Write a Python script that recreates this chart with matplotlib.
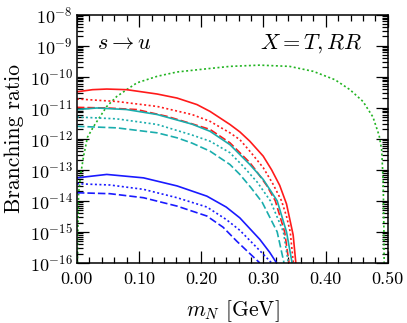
import numpy as np
import matplotlib
matplotlib.use("Agg")
import matplotlib.pyplot as plt
from matplotlib.ticker import LogLocator, MultipleLocator, FormatStrFormatter

plt.rcParams['font.family'] = 'serif'
plt.rcParams['font.serif'] = ['cmr10']
plt.rcParams['mathtext.fontset'] = 'cm'
plt.rcParams['axes.formatter.use_mathtext'] = True

# curves: m_N [GeV] and log10(branching ratio)
m_red_solid = [0, 0.025, 0.048, 0.08, 0.129, 0.161, 0.193, 0.214, 0.246, 0.262, 0.278, 0.2995, 0.313, 0.326, 0.337, 0.3477, 0.352]
lg_red_solid = [-10.49, -10.42, -10.40, -10.42, -10.56, -10.69, -10.9, -11.12, -11.54, -11.78, -12.08, -12.56, -13.0, -13.5, -14.1, -15.1, -16.0]

m_red_dot = [0, 0.064, 0.129, 0.185, 0.214, 0.246, 0.262, 0.278, 0.2995, 0.315, 0.329, 0.337, 0.343, 0.348]
lg_red_dot = [-10.72, -10.8, -10.96, -11.22, -11.44, -11.81, -12.03, -12.4, -12.93, -13.45, -14.0, -14.5, -15.0, -16.0]

m_red_dash = [0, 0.048, 0.096, 0.145, 0.185, 0.214, 0.246, 0.278, 0.287, 0.305, 0.319, 0.334, 0.341]
lg_red_dash = [-10.99, -11.01, -11.06, -11.28, -11.52, -11.7, -12.13, -12.77, -13.0, -13.5, -14.0, -15.0, -16.0]

m_cyan_solid = [0, 0.032, 0.08, 0.129, 0.185, 0.214, 0.246, 0.278, 0.2995, 0.322, 0.337, 0.346]
lg_cyan_solid = [-11.06, -11.01, -11.06, -11.22, -11.53, -11.76, -12.19, -12.83, -13.31, -14.0, -15.0, -16.0]

m_cyan_dot = [0, 0.064, 0.129, 0.185, 0.214, 0.246, 0.267, 0.29, 0.311, 0.332, 0.340]
lg_cyan_dot = [-11.3, -11.36, -11.54, -11.88, -12.08, -12.45, -12.88, -13.4, -14.0, -15.0, -16.0]

m_cyan_dash = [0, 0.064, 0.129, 0.161, 0.185, 0.214, 0.246, 0.262, 0.28, 0.298, 0.322, 0.333]
lg_cyan_dash = [-11.6, -11.65, -11.81, -11.97, -12.14, -12.4, -12.83, -13.15, -13.58, -14.05, -15.0, -16.0]

m_blue_solid = [0, 0.048, 0.107, 0.161, 0.209, 0.24, 0.262, 0.294, 0.31, 0.321]
lg_blue_solid = [-13.26, -13.15, -13.26, -13.52, -13.85, -14.2, -14.55, -15.24, -15.66, -16.0]

m_blue_dot = [0, 0.053, 0.107, 0.161, 0.209, 0.24, 0.262, 0.289, 0.313]
lg_blue_dot = [-13.45, -13.49, -13.63, -13.9, -14.2, -14.6, -14.95, -15.5, -16.0]

m_blue_dash = [0, 0.053, 0.107, 0.161, 0.209, 0.235, 0.257, 0.277, 0.294]
lg_blue_dash = [-13.74, -13.77, -13.9, -14.17, -14.49, -14.85, -15.3, -15.68, -16.0]

m_green = [0.0008, 0.0015, 0.0027, 0.0064, 0.0107, 0.017, 0.027, 0.0375, 0.048, 0.064, 0.08, 0.0965, 0.129, 0.161, 0.198,
           0.246, 0.294, 0.342, 0.38, 0.415, 0.439, 0.46, 0.476, 0.486, 0.49, 0.4925, 0.4936, 0.494]
lg_green = [-16, -15, -13.74, -13.1, -12.56, -11.95, -11.6, -11.28, -10.96, -10.64, -10.42, -10.2, -9.99, -9.85, -9.77,
            -9.67, -9.63, -9.67, -9.83, -10.1, -10.42, -10.8, -11.3, -11.9, -12.35, -13.4, -14.9, -16]

xticks = [0.0, 0.1, 0.2, 0.3, 0.4, 0.5]

red = '#ff1a1a'
cyan = '#1aadad'
blue = '#1a1aff'
green = '#22b422'
dot = (0, (1.2, 1.5))
dash = (0, (4.5, 1.8))

fig = plt.figure(figsize=(4.07, 3.23), dpi=100)
ax = fig.add_axes([0.189, 0.186, 0.764, 0.769])

curves = [
    (m_green, lg_green, green, dot),
    (m_red_solid, lg_red_solid, red, '-'),
    (m_red_dot, lg_red_dot, red, dot),
    (m_red_dash, lg_red_dash, red, dash),
    (m_cyan_solid, lg_cyan_solid, cyan, '-'),
    (m_cyan_dot, lg_cyan_dot, cyan, dot),
    (m_cyan_dash, lg_cyan_dash, cyan, dash),
    (m_blue_solid, lg_blue_solid, blue, '-'),
    (m_blue_dot, lg_blue_dot, blue, dot),
    (m_blue_dash, lg_blue_dash, blue, dash),
]
for m, lg, c, ls in curves:
    ax.plot(m, 10.0 ** np.array(lg), color=c, linestyle=ls, lw=1.2)

ax.set_yscale('log')
ax.set_xlim(0, 0.5)
ax.set_ylim(1e-16, 1e-8)
ax.set_xticks(xticks)
ax.xaxis.set_major_formatter(FormatStrFormatter('%.2f'))
ax.xaxis.set_minor_locator(MultipleLocator(0.02))
ax.yaxis.set_major_locator(LogLocator(base=10, numticks=20))
ax.yaxis.set_minor_locator(LogLocator(base=10, subs=np.arange(2, 10), numticks=20))
ax.tick_params(which='both', direction='in', top=True, right=True, labelsize=13, width=0.9)
ax.tick_params(which='major', length=8.5)
ax.tick_params(which='minor', length=4.3)
ax.tick_params(axis='x', which='major', pad=6.5)
ax.tick_params(axis='y', which='major', pad=3)
for s in ax.spines.values():
    s.set_linewidth(1.1)

ax.set_xlabel(r'$m_N$ [GeV]', fontsize=15.5, labelpad=8)
ax.set_ylabel('Branching ratio', fontsize=15.5, labelpad=4)
ax.text(0.064, 0.884, r'$s\to u$', transform=ax.transAxes, fontsize=16, va='center', ha='left')
ax.text(0.916, 0.884, r'$X=T, RR$', transform=ax.transAxes, fontsize=16, va='center', ha='right')

fig.savefig('out.png', dpi=100)
